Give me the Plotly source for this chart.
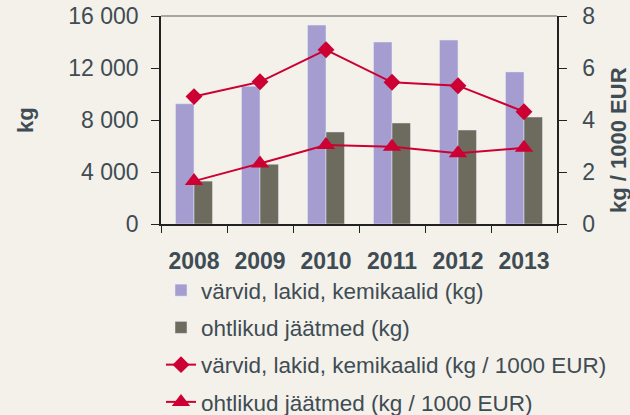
import plotly.graph_objects as go

years = ["2008", "2009", "2010", "2011", "2012", "2013"]
paints_kg = [9250, 10600, 15300, 14000, 14150, 11700]
hazardous_kg = [3300, 4600, 7080, 7770, 7230, 8230]
paints_per_eur = [4.9, 5.47, 6.7, 5.45, 5.32, 4.32]
hazardous_per_eur = [1.65, 2.33, 3.04, 2.97, 2.72, 2.93]

left_ticks = [0, 4000, 8000, 12000, 16000]
left_tick_text = ["0", "4 000", "8 000", "12 000", "16 000"]
right_ticks = [0, 2, 4, 6, 8]
right_tick_text = ["0", "2", "4", "6", "8"]

names = [
    "värvid, lakid, kemikaalid (kg)",
    "ohtlikud jäätmed (kg)",
    "värvid, lakid, kemikaalid (kg / 1000 EUR)",
    "ohtlikud jäätmed (kg / 1000 EUR)",
]
left_title = "kg"
right_title = "kg / 1000 EUR"

FONT = "Liberation Sans, Arial, sans-serif"
TXT = "#3f4c54"
RED = "#cc0033"

W, H = 630, 415
L, R, T, B = 161, 73, 16, 191
PW, PH = W - L - R, H - T - B

fig = go.Figure()
fig.add_trace(go.Bar(x=years, y=paints_kg, name=names[0], marker_color="#a59dd0",
                     legendgroup="a"))
fig.add_trace(go.Bar(x=years, y=hazardous_kg, name=names[1], marker_color="#6c6b5d",
                     legendgroup="b"))
fig.add_trace(go.Scatter(x=years, y=paints_per_eur, name=names[2], yaxis="y2",
                         mode="lines+markers", line=dict(color=RED, width=2),
                         marker=dict(symbol="diamond", size=13, color=RED),
                         legendgroup="c"))
fig.add_trace(go.Scatter(x=years, y=hazardous_per_eur, name=names[3], yaxis="y2",
                         mode="lines+markers", line=dict(color=RED, width=2),
                         marker=dict(symbol="triangle-up", size=16, color=RED),
                         legendgroup="d"))

fig.update_layout(
    width=W, height=H,
    margin=dict(l=L, r=R, t=T, b=B, autoexpand=False),
    paper_bgcolor="#f3f1ea", plot_bgcolor="rgba(0,0,0,0)",
    font=dict(family=FONT, color=TXT, size=22),
    barmode="group", bargap=0.44, bargroupgap=0,
    showlegend=True,
    legend=dict(xref="container", yref="container", x=161 / W, xanchor="left",
                y=1 - 269 / H, yanchor="top",
                traceorder="grouped", tracegroupgap=5,
                font=dict(size=22.5, color=TXT), bgcolor="rgba(0,0,0,0)"),
    xaxis=dict(type="category", showgrid=False, showline=True, linecolor="#222",
               linewidth=1.5, ticks="outside", tickson="boundaries", ticklen=7,
               tickcolor="#222", tickfont=dict(size=23, color=TXT, family=FONT, weight="bold"),
               ticklabelstandoff=16, automargin=False),
    yaxis=dict(range=[0, 16000], tickvals=left_ticks, ticktext=left_tick_text,
               showgrid=False, zeroline=False, showline=True, linecolor="#222",
               linewidth=1.5, ticks="outside", ticklen=8, tickcolor="#222",
               tickfont=dict(size=23, color=TXT), ticklabelstandoff=8, automargin=False),
    yaxis2=dict(range=[0, 8], tickvals=right_ticks,
                ticktext=["\u00a0\u2009" + t for t in right_tick_text],
                overlaying="y", side="right",
                showgrid=False, zeroline=False, showline=True, linecolor="#222",
                linewidth=1.5, ticks="outside", ticklen=8, tickcolor="#222",
                tickfont=dict(size=23, color=TXT), automargin=False),
    shapes=[dict(type="line", xref="paper", yref="paper", x0=0, x1=1, y0=1, y1=1,
                 line=dict(color="#8c8c8c", width=1.5))],
    annotations=[
        dict(text="<b>" + left_title + "</b>", xref="paper", yref="paper",
             x=(25 - L) / PW, y=(H - B - 120) / PH, textangle=-90, showarrow=False,
             xanchor="center", yanchor="middle", font=dict(size=22, color=TXT)),
        dict(text="<b>" + right_title + "</b>", xref="paper", yref="paper",
             x=(618 - L) / PW, y=(H - B - 140) / PH, textangle=-90, showarrow=False,
             xanchor="center", yanchor="middle", font=dict(size=22, color=TXT)),
    ],
)

fig.write_html("out.html", config={"displayModeBar": False},
               post_script="document.body.style.margin='0';document.body.style.padding='0';")
